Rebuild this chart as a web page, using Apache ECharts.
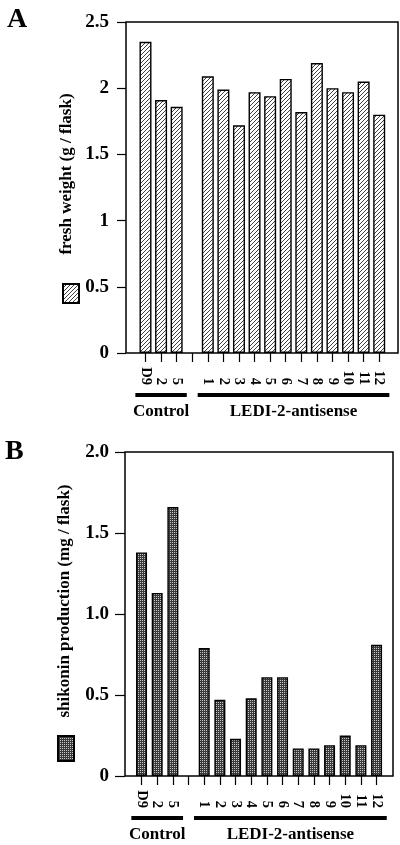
<!DOCTYPE html>
<html>
<head>
<meta charset="utf-8">
<script src="https://cdn.jsdelivr.net/npm/echarts@6/dist/echarts.min.js"></script>
<style>
html,body{margin:0;padding:0;background:#fff;}
#main{width:400px;height:845px;}
</style>
</head>
<body>
<div id="main"></div>
<script>
// ---- data ----
const categories = ['D9', '2', '5', '', '1', '2', '3', '4', '5', '6', '7', '8', '9', '10', '11', '12'];
const freshWeight = [2.35, 1.91, 1.86, null, 2.09, 1.99, 1.72, 1.97, 1.94, 2.07, 1.82, 2.19, 2.00, 1.97, 2.05, 1.80];
const shikonin = [1.38, 1.13, 1.66, null, 0.79, 0.47, 0.23, 0.48, 0.61, 0.61, 0.17, 0.17, 0.19, 0.25, 0.19, 0.81];
const groups = [
  { name: 'Control', from: 0, to: 2 },
  { name: 'LEDI-2-antisense', from: 4, to: 15 }
];
const yTitleA = 'fresh weight (g / flask)';
const yTitleB = 'shikonin production (mg / flask)';
const panelLetters = ['A', 'B'];

// ---- styles ----
const FONT = '"Liberation Serif", "Times New Roman", serif';
function hatchPattern() {
  const c = document.createElement('canvas');
  c.width = 4; c.height = 4;
  const g = c.getContext('2d');
  g.fillStyle = '#ffffff'; g.fillRect(0, 0, 4, 4);
  g.strokeStyle = '#2a2a2a'; g.lineWidth = 0.9;
  g.beginPath();
  g.moveTo(0, 4); g.lineTo(4, 0);
  g.moveTo(-1, 1); g.lineTo(1, -1);
  g.moveTo(3, 5); g.lineTo(5, 3);
  g.stroke();
  return c;
}
function stipplePattern() {
  const c = document.createElement('canvas');
  c.width = 2; c.height = 2;
  const g = c.getContext('2d');
  g.fillStyle = '#3a3a3a'; g.fillRect(0, 0, 2, 2);
  g.fillStyle = '#c8c8c8'; g.fillRect(0, 0, 1, 1);
  return c;
}

const chart = echarts.init(document.getElementById('main'), null, { renderer: 'canvas' });

const axisLabelY = { fontFamily: FONT, fontWeight: 'bold', fontSize: 19, color: '#000' };
const xLabel = {
  fontFamily: FONT, fontWeight: 'bold', fontSize: 14.5, color: '#000',
  rotate: -90, align: 'right', verticalAlign: 'middle', margin: 32, interval: 0
};

const option = {
  animation: false,
  backgroundColor: '#fff',
  title: [
    { text: panelLetters[0], left: 7, top: 6, padding: 0,
      textStyle: { fontFamily: FONT, fontWeight: 'bold', fontSize: 28, color: '#000' } },
    { text: panelLetters[1], left: 5, top: 438, padding: 0,
      textStyle: { fontFamily: FONT, fontWeight: 'bold', fontSize: 28, color: '#000' } }
  ],
  legend: [
    { data: [{ name: 'fresh weight', icon: 'rect' }], left: 62, top: 283, itemWidth: 16, itemHeight: 19, padding: 0,
      selectedMode: false, formatter: () => '', textStyle: { fontSize: 1 } },
    { data: [{ name: 'shikonin production', icon: 'rect' }], left: 57, top: 735, itemWidth: 16, itemHeight: 25, padding: 0,
      selectedMode: false, formatter: () => '', textStyle: { fontSize: 1 } }
  ],
  grid: [
    { left: 137.7, width: 249.3, top: 22, height: 331 },
    { left: 126, width: 272, top: 22, height: 331, show: true, borderColor: '#000', borderWidth: 1.5, backgroundColor: 'transparent' },
    { left: 133.7, width: 250.7, top: 452, height: 324 },
    { left: 125, width: 268, top: 452, height: 324, show: true, borderColor: '#000', borderWidth: 1.5, backgroundColor: 'transparent' }
  ],
  xAxis: [
    { type: 'category', gridIndex: 0, data: categories, boundaryGap: true,
      axisLine: { show: false },
      axisTick: { show: true, alignWithLabel: true, length: 9, lineStyle: { color: '#000', width: 1.2 }, interval: 0 },
      axisLabel: xLabel },
    { type: 'value', gridIndex: 1, show: false, min: 0, max: 1 },
    { type: 'category', gridIndex: 2, data: categories, boundaryGap: true,
      axisLine: { show: false },
      axisTick: { show: true, alignWithLabel: true, length: 9, lineStyle: { color: '#000', width: 1.2 }, interval: 0 },
      axisLabel: xLabel },
    { type: 'value', gridIndex: 3, show: false, min: 0, max: 1 }
  ],
  yAxis: [
    { type: 'value', gridIndex: 0, min: 0, max: 2.5, interval: 0.5, offset: 11.7,
      axisLine: { show: false },
      axisTick: { show: true, length: 9, lineStyle: { color: '#000', width: 1.2 } },
      splitLine: { show: false },
      axisLabel: Object.assign({ margin: 17 }, axisLabelY) },
    { type: 'value', gridIndex: 1, show: false, min: 0, max: 1 },
    { type: 'value', gridIndex: 2, min: 0, max: 2, interval: 0.5, offset: 8.7,
      axisLine: { show: false },
      axisTick: { show: true, length: 10, lineStyle: { color: '#000', width: 1.2 } },
      splitLine: { show: false },
      axisLabel: Object.assign({ margin: 16, formatter: v => (v === 0 ? '0' : v.toFixed(1)) }, axisLabelY) },
    { type: 'value', gridIndex: 3, show: false, min: 0, max: 1 }
  ],
  series: [
    { name: 'fresh weight', type: 'bar', xAxisIndex: 0, yAxisIndex: 0, data: freshWeight,
      barWidth: 12,
      itemStyle: { color: { image: hatchPattern(), repeat: 'repeat' }, borderColor: '#000', borderWidth: 1.4 } },
    { name: 'shikonin production', type: 'bar', xAxisIndex: 2, yAxisIndex: 2, data: shikonin,
      barWidth: 11,
      itemStyle: { color: { image: stipplePattern(), repeat: 'repeat' }, borderColor: '#000', borderWidth: 1.4 } }
  ]
};
chart.setOption(option);

// group brackets and axis titles, positioned from the axes
function buildGraphics() {
  const els = [];
  const panels = [
    { xi: 0, yi: 0, title: yTitleA, titleX: 67, titleY: 174 },
    { xi: 2, yi: 2, title: yTitleB, titleX: 65, titleY: 601 }
  ];
  panels.forEach(p => {
    const px = i => chart.convertToPixel({ xAxisIndex: p.xi }, i);
    const band = px(1) - px(0);
    const y0 = chart.convertToPixel({ yAxisIndex: p.yi }, 0);
    groups.forEach(gr => {
      const x1 = px(gr.from) - 0.65 * band;
      const x2 = px(gr.to) + 0.65 * band;
      els.push({ type: 'line', shape: { x1: x1, y1: y0 + 42, x2: x2, y2: y0 + 42 },
        style: { stroke: '#000', lineWidth: 4 } });
      els.push({ type: 'text', x: (x1 + x2) / 2, y: y0 + 59,
        style: { text: gr.name, fill: '#000', fontFamily: FONT, fontWeight: 'bold', fontSize: 17,
          textAlign: 'center', textVerticalAlign: 'middle' } });
    });
    els.push({ type: 'text', x: p.titleX, y: p.titleY, rotation: Math.PI / 2,
      style: { text: p.title, fill: '#000', fontFamily: FONT, fontWeight: 'bold', fontSize: 17,
        textAlign: 'center', textVerticalAlign: 'middle' } });
  });
  chart.setOption({ graphic: { elements: els } });
}
buildGraphics();
</script>
</body>
</html>
